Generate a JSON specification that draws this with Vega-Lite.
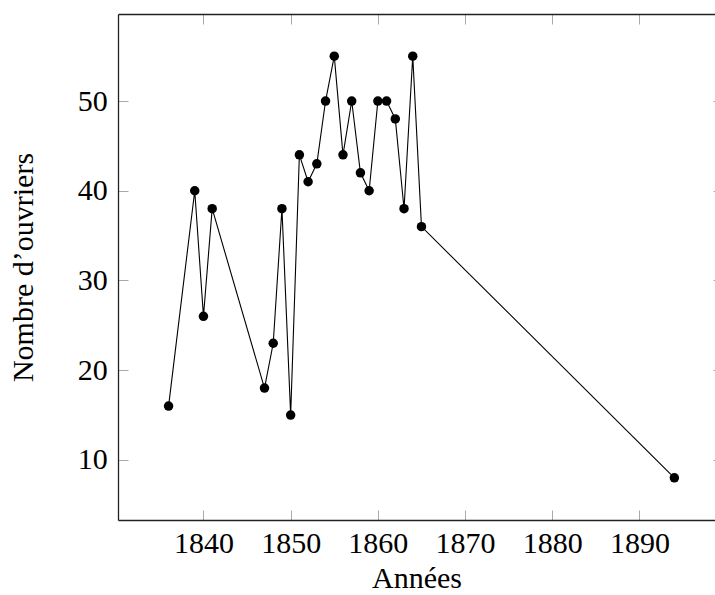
{
  "$schema": "https://vega.github.io/schema/vega-lite/v6.json",
  "autosize": {"type": "none"},
  "padding": {"left": 118, "top": 14, "right": 0, "bottom": 75},
  "width": 597,
  "height": 506,
  "background": "white",
  "config": {
    "view": {"stroke": null},
    "axis": {
      "labelFont": "Liberation Serif",
      "labelFontSize": 30,
      "labelColor": "black",
      "titleFont": "Liberation Serif",
      "titleFontSize": 30,
      "titleFontWeight": "normal",
      "titleColor": "black",
      "domainColor": "#222222",
      "domainWidth": 1.3,
      "tickColor": "#aaaaaa",
      "tickWidth": 1,
      "tickSize": -10,
      "grid": false
    }
  },
  "data": {
    "values": [
      {"annee": 1836, "ouvriers": 16},
      {"annee": 1839, "ouvriers": 40},
      {"annee": 1840, "ouvriers": 26},
      {"annee": 1841, "ouvriers": 38},
      {"annee": 1847, "ouvriers": 18},
      {"annee": 1848, "ouvriers": 23},
      {"annee": 1849, "ouvriers": 38},
      {"annee": 1850, "ouvriers": 15},
      {"annee": 1851, "ouvriers": 44},
      {"annee": 1852, "ouvriers": 41},
      {"annee": 1853, "ouvriers": 43},
      {"annee": 1854, "ouvriers": 50},
      {"annee": 1855, "ouvriers": 55},
      {"annee": 1856, "ouvriers": 44},
      {"annee": 1857, "ouvriers": 50},
      {"annee": 1858, "ouvriers": 42},
      {"annee": 1859, "ouvriers": 40},
      {"annee": 1860, "ouvriers": 50},
      {"annee": 1861, "ouvriers": 50},
      {"annee": 1862, "ouvriers": 48},
      {"annee": 1863, "ouvriers": 38},
      {"annee": 1864, "ouvriers": 55},
      {"annee": 1865, "ouvriers": 36},
      {"annee": 1894, "ouvriers": 8}
    ]
  },
  "resolve": {"axis": {"x": "independent", "y": "independent"}},
  "layer": [
    {
      "mark": {"type": "line", "color": "black", "strokeWidth": 1.1},
      "encoding": {
        "x": {
          "field": "annee", "type": "quantitative",
          "scale": {"domain": [1830.2, 1898.66], "nice": false, "zero": false},
          "axis": {
            "orient": "bottom",
            "title": "Années",
            "values": [1840, 1850, 1860, 1870, 1880, 1890],
            "format": "d",
            "labelFont": "Liberation Serif",
            "labelFontSize": 30,
            "labelPadding": 18.5,
            "titlePadding": 5
          }
        },
        "y": {
          "field": "ouvriers", "type": "quantitative",
          "scale": {"domain": [3.3, 59.7], "nice": false, "zero": false},
          "axis": {
            "orient": "left",
            "title": "Nombre d’ouvriers",
            "values": [10, 20, 30, 40, 50],
            "labelFont": "Liberation Serif",
            "labelFontSize": 30,
            "labelPadding": 20.7,
            "titlePadding": 39
          }
        }
      }
    },
    {
      "mark": {"type": "point", "filled": true, "color": "black", "size": 90, "opacity": 1},
      "encoding": {
        "x": {
          "field": "annee", "type": "quantitative",
          "axis": {
            "orient": "top",
            "title": null,
            "labels": false,
            "values": [1840, 1850, 1860, 1870, 1880, 1890]
          }
        },
        "y": {
          "field": "ouvriers", "type": "quantitative",
          "axis": {
            "orient": "right",
            "title": null,
            "labels": false,
            "domain": false,
            "tickSize": -2,
            "values": [10, 20, 30, 40, 50]
          }
        }
      }
    }
  ]
}
